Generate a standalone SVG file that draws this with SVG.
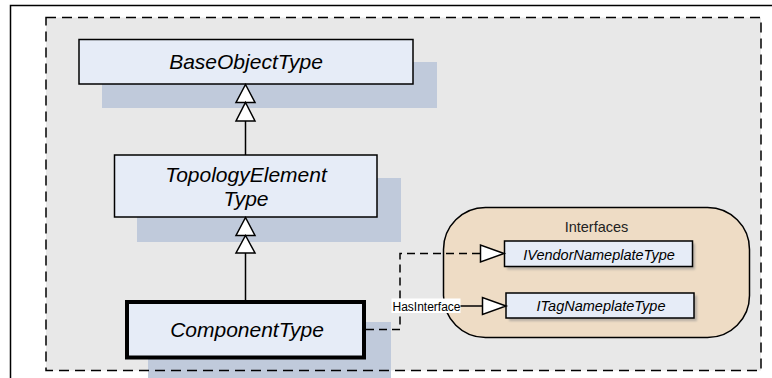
<svg xmlns="http://www.w3.org/2000/svg" width="772" height="378" viewBox="0 0 772 378">
<style>
.frame{fill:none;stroke:#000;stroke-width:1.5}
.bg{fill:#e8e8e8}
.bgline{fill:none;stroke:#000;stroke-width:1.5;stroke-dasharray:10 6}
.shadow{fill:#c0cadb}
.box{fill:#e6ecf7;stroke:#000;stroke-width:1.5}
.bold{stroke-width:4}
.big{font-family:"Liberation Sans",Arial,sans-serif;font-style:italic;font-size:21px;fill:#000;text-anchor:middle}
.small{font-family:"Liberation Sans",Arial,sans-serif;font-style:italic;font-size:14.5px;fill:#000;text-anchor:middle}
.group{fill:#eedcc5;stroke:#000;stroke-width:1.5}
.glabel{font-family:"Liberation Sans",Arial,sans-serif;font-size:14.5px;fill:#222;text-anchor:middle}
.ishadow{fill:#8a8a8a;opacity:0.55}
.line{fill:none;stroke:#000;stroke-width:1.5}
.dash{fill:none;stroke:#000;stroke-width:1.5;stroke-dasharray:8 5}
.tri{fill:#fff;stroke:#000;stroke-width:1.5}
.lbl{font-family:"Liberation Sans",Arial,sans-serif;font-size:12px;fill:#000}
</style>
<defs>
<filter id="blur" x="-10%" y="-10%" width="120%" height="130%"><feGaussianBlur stdDeviation="1"/></filter>
</defs>
<rect class="frame" x="10.5" y="5.5" width="800" height="400"/>
<rect class="bg" x="46" y="17.5" width="715" height="353"/>
<g id="shadows">
<rect class="shadow" x="102" y="62" width="335" height="46"/>
<rect class="shadow" x="137" y="178" width="264" height="64"/>
<rect class="shadow" x="148" y="322" width="243" height="60"/>
</g>
<rect class="bgline" x="46" y="17.5" width="715" height="353"/>
<g id="interfaces">
<rect class="group" x="443.5" y="207.5" width="306" height="130" rx="42" ry="42"/>
<text class="glabel" x="596.5" y="232">Interfaces</text>
</g>
<g id="BaseObjectType">
<rect class="box" x="79" y="39.5" width="334" height="44.5"/>
<text class="big" x="246" y="69">BaseObjectType</text>
</g>
<g id="TopologyElementType">
<rect class="box" x="114.5" y="155" width="262.5" height="62"/>
<text class="big" x="246" y="182">TopologyElement</text>
<text class="big" x="246" y="206">Type</text>
</g>
<g id="ComponentType">
<rect class="box bold" x="127" y="302" width="237" height="55.5"/>
<text class="big" x="247" y="337">ComponentType</text>
</g>
<g id="IVendorNameplateType">
<rect class="ishadow" x="507" y="243.5" width="188" height="26" filter="url(#blur)"/>
<rect class="box" x="504.5" y="241" width="188" height="25.5"/>
<text class="small" x="599" y="259.5">IVendorNameplateType</text>
</g>
<g id="ITagNameplateType">
<rect class="ishadow" x="509" y="295.5" width="188" height="25.5" filter="url(#blur)"/>
<rect class="box" x="506" y="293" width="188" height="25"/>
<text class="small" x="601" y="311">ITagNameplateType</text>
</g>
<g id="connectors">
<line class="line" x1="245.5" y1="155" x2="245.5" y2="121"/>
<polygon class="tri" points="245.5,84.5 255,102.5 236,102.5"/>
<polygon class="tri" points="245.5,102.5 255,121 236,121"/>
<line class="line" x1="245.5" y1="300" x2="245.5" y2="253"/>
<polygon class="tri" points="245.5,217.5 255,235.5 236,235.5"/>
<polygon class="tri" points="245.5,235.5 255,253 236,253"/>
<path class="dash" d="M366,329.5 H400 V253.5 H480.5"/>
<polygon class="tri" points="504,253.5 480.5,245 480.5,262"/>
<path class="dash" d="M400,306 H460"/>
<line class="line" x1="460" y1="306" x2="482.5" y2="306"/>
<polygon class="tri" points="506,306 482.5,297.5 482.5,314.5"/>
<rect x="391.5" y="298.5" width="69" height="14.5" fill="#fff"/>
<text class="lbl" x="392.5" y="310.5">HasInterface</text>
</g>
</svg>
